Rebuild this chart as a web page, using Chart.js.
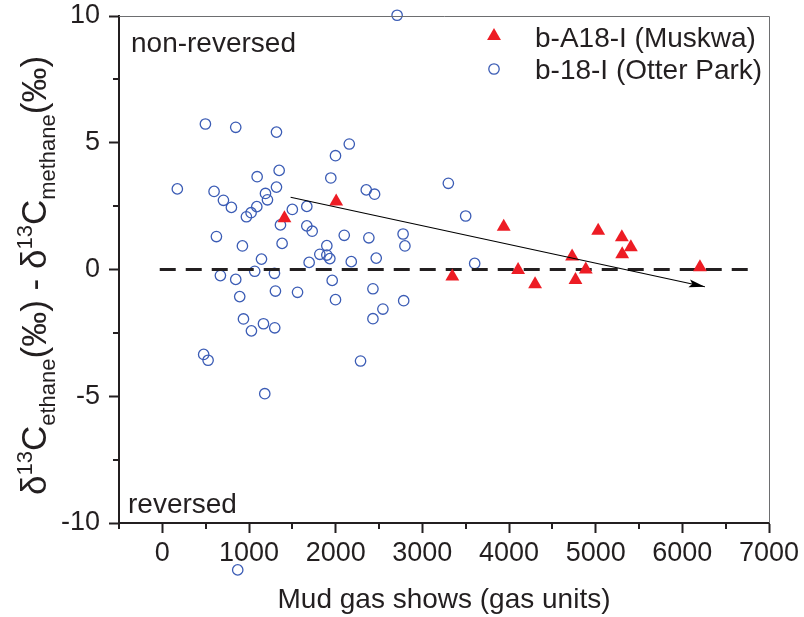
<!DOCTYPE html>
<html>
<head>
<meta charset="utf-8">
<script src="https://cdn.jsdelivr.net/npm/chart.js@4.4.0/dist/chart.umd.min.js"></script>
<style>
  html, body { margin: 0; padding: 0; background: #fff; }
  #wrap { width: 804px; height: 617px; }
</style>
</head>
<body>
<div id="wrap"><canvas id="gasChart" width="804" height="617"></canvas></div>
<script>
// b-A18-I (Muskwa)
const muskwaGas   = [1409, 2006, 3346, 3939, 4105, 4301, 4728, 4767, 4886, 5029, 5302, 5406, 5306, 6203];
const muskwaDelta = [2.02, 2.68, -0.28, 1.69, -0.02, -0.58, 0.51, -0.41, 0.0, 1.53, 1.27, 0.88, 0.60, 0.09];

// b-18-I (Otter Park)
const otterGas = [
    173, 497, 847, 1317, 1348, 1094, 1317, 1190, 1213, 597,
    705, 797, 1090, 1024, 970, 1500, 1363, 624, 2157, 1998,
    1944, 2353, 2449, 1667, 1667, 1729, 2099, 2383, 2778, 924,
    1382, 1144, 670, 847, 1066, 1294, 1305, 1560, 893, 936,
    1028, 1167, 1297, 2799, 1898, 1817, 1898, 1933, 1694, 2180,
    2468, 1960, 1998, 2430, 2785, 2545, 2430, 477, 528, 2287,
    1182, 3300, 3500, 3604, 2709, 870
];
const otterDelta = [
    3.18, 5.74, 5.61, 5.42, 3.91, 3.66, 3.25, 3.00, 2.75, 3.08,
    2.73, 2.45, 2.48, 2.24, 2.08, 2.37, 1.76, 1.30, 4.95, 4.49,
    3.61, 3.14, 2.97, 2.49, 1.72, 1.51, 1.35, 1.25, 1.40, 0.93,
    1.03, 0.41, -0.24, -0.39, -0.07, -0.15, -0.85, -0.90, -1.07, -1.95,
    -2.42, -2.14, -2.30, 0.93, 0.94, 0.60, 0.57, 0.43, 0.28, 0.31,
    0.45, -0.43, -1.19, -0.76, -1.23, -1.56, -1.94, -3.35, -3.58, -3.61,
    -4.90, 3.40, 2.11, 0.24, 10.03, -11.85
];

// trend arrow and zero reference line
const trendGas   = [1480, 6260];
const trendDelta = [2.85, -0.68];
const zeroGas    = [-30, 6830];
const zeroDelta  = [0, 0];

const xMin = -500, xMax = 7000, xStep = 500;
const yMin = -10, yMax = 10, yStep = 2.5;

const textColor = '#231f20';
const fontFamily = "'Liberation Sans', Arial, sans-serif";
const redColor = '#ed1c24';
const blueColor = '#3b5cb5';

function toPoints(xs, ys) {
    return xs.map((x, i) => ({ x: x, y: ys[i] }));
}

function drawTriangle(ctx, x, y, r) {
    ctx.beginPath();
    ctx.moveTo(x, y - r);
    ctx.lineTo(x + Math.sin(2 * Math.PI / 3) * r, y - Math.cos(2 * Math.PI / 3) * r);
    ctx.lineTo(x + Math.sin(4 * Math.PI / 3) * r, y - Math.cos(4 * Math.PI / 3) * r);
    ctx.closePath();
    ctx.fill();
}

// arrowhead on the trend line, off-axis points, minor ticks, frame, texts
const extrasPlugin = {
    id: 'extras',
    afterDatasetsDraw(chart) {
        const ctx = chart.ctx;
        const area = chart.chartArea;
        const xs = chart.scales.x, ys = chart.scales.y;

        // points that lie outside the axes (chart.js skips them)
        const wide = { left: -1e4, top: -1e4, right: 1e4, bottom: 1e4 };
        chart.getDatasetMeta(2).data.forEach(el => {
            if (el.y > area.bottom + 6 || el.y < area.top - 6) el.draw(ctx, wide);
        });

        const x0 = xs.getPixelForValue(trendGas[0]), y0 = ys.getPixelForValue(trendDelta[0]);
        const x1 = xs.getPixelForValue(trendGas[1]), y1 = ys.getPixelForValue(trendDelta[1]);
        const ang = Math.atan2(y1 - y0, x1 - x0);
        const len = 16, half = 4;
        ctx.save();
        ctx.fillStyle = '#000';
        ctx.beginPath();
        ctx.moveTo(x1, y1);
        ctx.lineTo(x1 - len * Math.cos(ang) + half * Math.sin(ang), y1 - len * Math.sin(ang) - half * Math.cos(ang));
        ctx.lineTo(x1 - len * 0.8 * Math.cos(ang), y1 - len * 0.8 * Math.sin(ang));
        ctx.lineTo(x1 - len * Math.cos(ang) - half * Math.sin(ang), y1 - len * Math.sin(ang) + half * Math.cos(ang));
        ctx.closePath();
        ctx.fill();
        ctx.restore();
    },
    afterDraw(chart) {
        const ctx = chart.ctx;
        const area = chart.chartArea;
        const xs = chart.scales.x, ys = chart.scales.y;
        ctx.save();

        // top and right frame
        ctx.strokeStyle = '#6d6e70';
        ctx.lineWidth = 1;
        ctx.beginPath();
        ctx.moveTo(area.left, area.top + 0.5);
        ctx.lineTo(area.right + 0.5, area.top + 0.5);
        ctx.lineTo(area.right + 0.5, area.bottom);
        ctx.stroke();

        // minor ticks
        ctx.strokeStyle = textColor;
        ctx.lineWidth = 2;
        ctx.beginPath();
        for (let v = xMin; v <= xMax; v += xStep) {
            if (v % 1000 !== 0) {
                const px = Math.round(xs.getPixelForValue(v));
                ctx.moveTo(px, area.bottom);
                ctx.lineTo(px, area.bottom + 6);
            }
        }
        for (let v = yMin; v <= yMax; v += yStep) {
            if (v % 5 !== 0) {
                const py = Math.round(ys.getPixelForValue(v));
                ctx.moveTo(area.left, py);
                ctx.lineTo(area.left - 6, py);
            }
        }
        ctx.stroke();

        // region labels
        ctx.fillStyle = textColor;
        ctx.textBaseline = 'alphabetic';
        ctx.textAlign = 'left';
        ctx.font = '28px ' + fontFamily;
        ctx.fillText('non-reversed', 131, 52);
        ctx.fillText('reversed', 128, 513);

        // legend
        ctx.fillText('b-A18-I (Muskwa)', 535, 47);
        ctx.fillText('b-18-I (Otter Park)', 535, 79);
        ctx.fillStyle = redColor;
        drawTriangle(ctx, 494, 36, 8);
        ctx.strokeStyle = blueColor;
        ctx.lineWidth = 1.3;
        ctx.beginPath();
        ctx.arc(494, 69, 5.2, 0, Math.PI * 2);
        ctx.stroke();

        // y axis title with sub/superscripts
        const big = 35, small = 22;
        const parts = [
            ['\u03b4', 'big'], ['13', 'sup'], ['C', 'big'], ['ethane', 'sub'], ['(\u2030)', 'big'],
            [' - ', 'big'],
            ['\u03b4', 'big'], ['13', 'sup'], ['C', 'big'], ['methane', 'sub'], ['(\u2030)', 'big']
        ];
        ctx.fillStyle = textColor;
        ctx.translate(46, 495);
        ctx.rotate(-Math.PI / 2);
        let pos = 0;
        parts.forEach(p => {
            const size = p[1] === 'big' ? big : small;
            const dy = p[1] === 'sub' ? 9 : (p[1] === 'sup' ? -14 : 0);
            ctx.font = size + 'px ' + fontFamily;
            ctx.fillText(p[0], pos, dy);
            pos += ctx.measureText(p[0]).width;
        });
        ctx.restore();
    }
};

const ctx = document.getElementById('gasChart').getContext('2d');
const chart = new Chart(ctx, {
    type: 'scatter',
    data: {
        datasets: [
            {
                label: 'trend',
                data: toPoints(trendGas, trendDelta),
                showLine: true,
                borderColor: '#000',
                borderWidth: 1.2,
                pointRadius: 0
            },
            {
                label: 'b-A18-I (Muskwa)',
                data: toPoints(muskwaGas, muskwaDelta),
                pointStyle: 'triangle',
                pointRadius: 8,
                backgroundColor: redColor,
                borderColor: redColor,
                borderWidth: 0,
                clip: false
            },
            {
                label: 'b-18-I (Otter Park)',
                data: toPoints(otterGas, otterDelta),
                pointStyle: 'circle',
                pointRadius: 5.2,
                backgroundColor: 'rgba(255,255,255,0)',
                borderColor: blueColor,
                borderWidth: 1.3,
                clip: false,
                order: 2
            },
            {
                label: 'zero',
                data: toPoints(zeroGas, zeroDelta),
                showLine: true,
                borderColor: textColor,
                borderWidth: 3,
                borderDash: [16, 10],
                pointRadius: 0,
                order: 1
            }
        ]
    },
    options: {
        responsive: false,
        animation: false,
        layout: {
            autoPadding: false,
            padding: { top: 16, right: 35, left: 0, bottom: 0 }
        },
        plugins: {
            legend: { display: false },
            tooltip: { enabled: false }
        },
        scales: {
            x: {
                type: 'linear',
                min: xMin,
                max: xMax,
                afterFit: scale => {
                    scale.height = 94;
                    scale.paddingLeft = 0;
                    scale.paddingRight = 0;
                },
                ticks: {
                    stepSize: xStep,
                    autoSkip: false,
                    maxRotation: 0,
                    padding: 4,
                    color: textColor,
                    font: { family: fontFamily, size: 27 },
                    callback: value => (value % 1000 === 0 ? String(value) : '')
                },
                grid: {
                    drawOnChartArea: false,
                    tickLength: 10,
                    tickWidth: 2,
                    tickColor: c => (c.tick && c.tick.value % 1000 === 0 ? textColor : 'rgba(0,0,0,0)')
                },
                border: { display: true, color: textColor, width: 2 },
                title: {
                    display: true,
                    text: 'Mud gas shows (gas units)',
                    color: textColor,
                    font: { family: fontFamily, size: 28 },
                    padding: { top: 0, bottom: 0 }
                }
            },
            y: {
                type: 'linear',
                min: yMin,
                max: yMax,
                afterFit: scale => {
                    scale.width = 119;
                    scale.paddingTop = 0;
                    scale.paddingBottom = 0;
                },
                ticks: {
                    stepSize: yStep,
                    autoSkip: false,
                    padding: 9,
                    color: textColor,
                    font: { family: fontFamily, size: 27 },
                    callback: value => (value % 5 === 0 ? String(value) : '')
                },
                grid: {
                    drawOnChartArea: false,
                    tickLength: 10,
                    tickWidth: 2,
                    tickColor: c => (c.tick && c.tick.value % 5 === 0 ? textColor : 'rgba(0,0,0,0)')
                },
                border: { display: true, color: textColor, width: 2 }
            }
        }
    },
    plugins: [extrasPlugin]
});
</script>
</body>
</html>
